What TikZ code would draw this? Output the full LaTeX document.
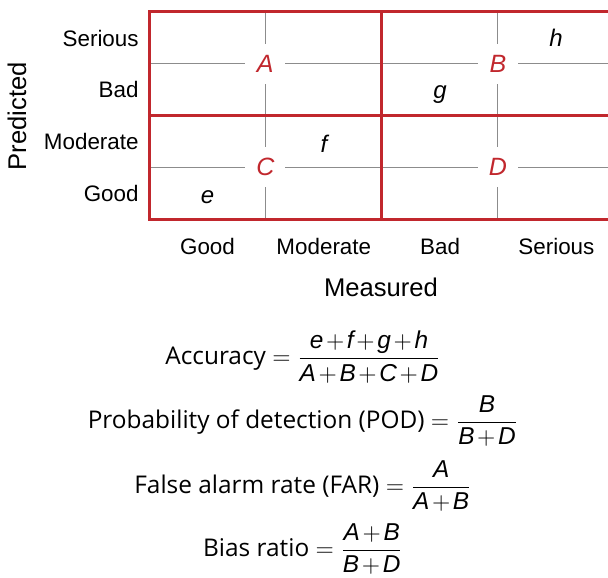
\documentclass[tikz,border=0pt]{standalone}
\usepackage{amsmath}
\usepackage{fontspec}
\setmainfont{Liberation Sans}
\newfontfamily\eqfont{Open Sans}
\definecolor{cred}{HTML}{C1272D}
\definecolor{cgray}{HTML}{8C8C8C}
\newcommand{\mv}[1]{\text{\normalfont\itshape #1}}
\newcommand{\tightplus}{\medmuskip=2mu\relax}

\begin{document}
\begin{tikzpicture}[x=0.5pt,y=-0.5pt,
  lvl/.style={font=\fontsize{11.2}{13}\selectfont},
  axtitle/.style={font=\fontsize{12.8}{15}\selectfont},
  cnt/.style={font=\fontsize{12}{14}\selectfont\itshape, anchor=base},
  quadlbl/.style={font=\fontsize{12.5}{14}\selectfont\itshape, text=cred, fill=white, minimum size=20pt, inner sep=0pt},
  formula/.style={font=\eqfont\fontsize{12.2}{14}\selectfont\tightplus}]
  \useasboundingbox (0,0) rectangle (608,577);
  \clip (0,0) rectangle (608,577);
  \draw[cgray, line width=0.5pt] (265.3,12) -- (265.3,219) (497.9,12) -- (497.9,219)
    (149,63.75) -- (614.2,63.75) (149,167.25) -- (614.2,167.25);
  \foreach \q/\x/\y in {A/265.3/63.75, B/497.9/63.75, C/265.3/167.25, D/497.9/167.25}
    \node[quadlbl] (q\q) at (\x,\y) {\q};
  \draw[cred, line width=1.5pt] (149,12) rectangle (614.2,219)
    (381.6,12) -- (381.6,219) (149,115.5) -- (614.2,115.5);
  \foreach \c/\x/\y in {e/207.5/203, f/324/152, g/440/99, h/556/47}
    \node[cnt] (n\c) at (\x,\y) {\c};
  \foreach \t [count=\i] in {Serious,Bad,Moderate,Good}
    \node[lvl, anchor=east, inner sep=0pt] (p\i) at (139,{38+51.75*(\i-1)}) {\t};
  \foreach \t [count=\i] in {Good,Moderate,Bad,Serious}
    \node[lvl] (m\i) at ({207.5+116.3*(\i-1)},246) {\t};
  \node[axtitle, rotate=90] (pred) at (17,116) {Predicted};
  \node[axtitle] (meas) at (381,287) {Measured};
  \node[formula] (acc) at (303,357) {Accuracy $=\dfrac{\mv{e}+\mv{f}+\mv{g}+\mv{h}}{\mv{A}+\mv{B}+\mv{C}+\mv{D}}$};
  \node[formula] (pod) at (303,421) {Probability of detection (POD) $=\dfrac{\mv{B}}{\mv{B}+\mv{D}}$};
  \node[formula] (far) at (303,486) {False alarm rate (FAR) $=\dfrac{\mv{A}}{\mv{A}+\mv{B}}$};
  \node[formula] (bias) at (303,549) {Bias ratio $=\dfrac{\mv{A}+\mv{B}}{\mv{B}+\mv{D}}$};
\end{tikzpicture}
\end{document}
